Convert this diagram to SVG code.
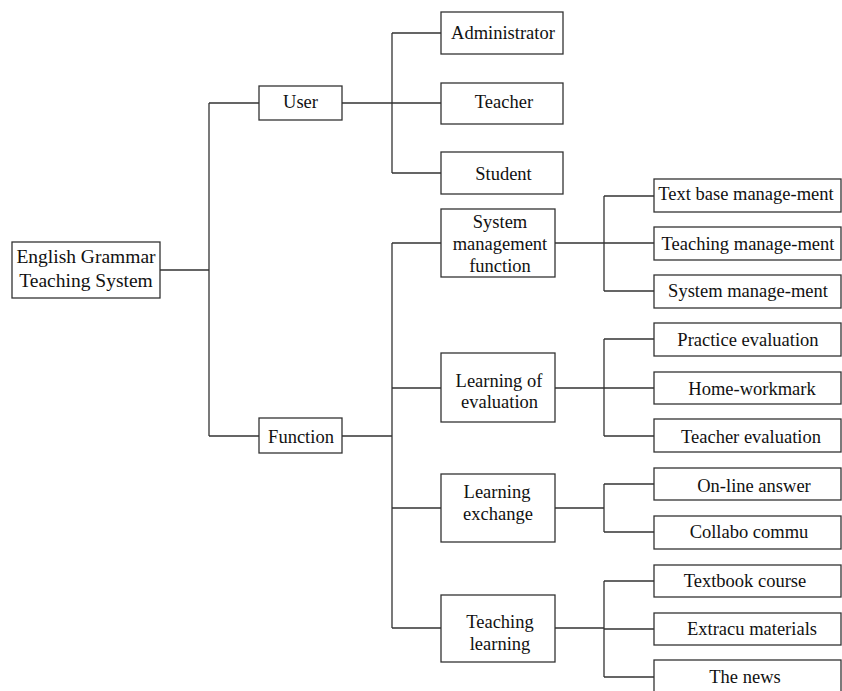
<svg xmlns="http://www.w3.org/2000/svg" width="842" height="691" viewBox="0 0 842 691" font-family="'Liberation Serif', 'Times New Roman', serif">
<style>
.b{fill:#fff;stroke:#333;stroke-width:1.3}
.c{fill:none;stroke:#333;stroke-width:1.3}
text{font-family:'Liberation Serif','Times New Roman',serif;font-size:18.5px;fill:#111;text-anchor:middle}
.r{font-size:19.5px}
</style>
<rect width="842" height="691" fill="#fff"/>
<g id="connectors">
<path class="c" d="M160 270H209M209 103V436M209 103H259M209 436H259"/>
<path class="c" d="M342 103H392M392 33V173M392 33H441M392 103H441M392 173H441"/>
<path class="c" d="M342 436H392M392 243V628M392 243H441M392 388H441M392 508H441M392 628H441"/>
<path class="c" d="M555 243H604M604 196V291M604 196H654M604 243H654M604 291H654"/>
<path class="c" d="M555 388H604M604 339V436M604 339H654M604 388H654M604 436H654"/>
<path class="c" d="M555 508H604M604 484V532M604 484H654M604 532H654"/>
<path class="c" d="M555 628H604M604 581V677M604 581H654M604 629H654M604 677H654"/>
</g>
<g id="root"><rect class="b" x="12" y="242" width="148" height="56"/><text class="r" x="86" y="263">English Grammar</text><text class="r" x="86" y="287">Teaching System</text></g>
<g id="user"><rect class="b" x="259" y="86" width="83" height="34"/><text x="300.5" y="108">User</text></g>
<g id="function"><rect class="b" x="259" y="418" width="83" height="35"/><text x="301" y="443">Function</text></g>
<g id="administrator"><rect class="b" x="441" y="12" width="122" height="42"/><text x="503" y="39">Administrator</text></g>
<g id="teacher"><rect class="b" x="441" y="83" width="122" height="41"/><text x="504" y="108">Teacher</text></g>
<g id="student"><rect class="b" x="441" y="152" width="122" height="42"/><text x="503.5" y="180">Student</text></g>
<g id="sysmgmt"><rect class="b" x="441" y="209" width="114" height="68"/><text x="500" y="228">System</text><text x="500" y="250">management</text><text x="500" y="272">function</text></g>
<g id="learneval"><rect class="b" x="441" y="353" width="114" height="69"/><text x="499" y="387">Learning of</text><text x="499.5" y="408">evaluation</text></g>
<g id="learnexch"><rect class="b" x="441" y="474" width="114" height="68"/><text x="497" y="498">Learning</text><text x="498" y="520">exchange</text></g>
<g id="teachlearn"><rect class="b" x="441" y="595" width="114" height="67"/><text x="500" y="628">Teaching</text><text x="500" y="650">learning</text></g>
<g id="textbase"><rect class="b" x="654" y="179" width="187" height="33"/><text x="746" y="200">Text base manage-ment</text></g>
<g id="teachmgmt"><rect class="b" x="654" y="227" width="187" height="33"/><text x="748" y="250">Teaching manage-ment</text></g>
<g id="systemmgmt"><rect class="b" x="654" y="275" width="187" height="33"/><text x="748" y="297">System manage-ment</text></g>
<g id="practice"><rect class="b" x="654" y="323" width="187" height="33"/><text x="748" y="346">Practice evaluation</text></g>
<g id="homework"><rect class="b" x="654" y="372" width="187" height="32"/><text x="752" y="395">Home-workmark</text></g>
<g id="teachereval"><rect class="b" x="654" y="419" width="187" height="33"/><text x="751" y="443">Teacher evaluation</text></g>
<g id="online"><rect class="b" x="654" y="468" width="187" height="32"/><text x="754" y="492">On-line answer</text></g>
<g id="collabo"><rect class="b" x="654" y="516" width="187" height="33"/><text x="749" y="538">Collabo commu</text></g>
<g id="textbook"><rect class="b" x="654" y="565" width="187" height="32"/><text x="745" y="587">Textbook course</text></g>
<g id="extracu"><rect class="b" x="654" y="613" width="187" height="32"/><text x="752" y="635">Extracu materials</text></g>
<g id="news"><rect class="b" x="654" y="660" width="187" height="33"/><text x="745" y="683">The news</text></g>
</svg>
